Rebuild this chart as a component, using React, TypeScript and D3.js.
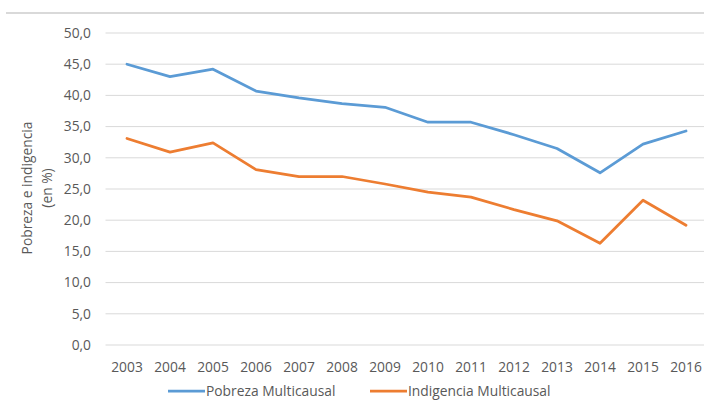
import React from "react";
import * as d3 from "d3";

const years = ["2003","2004","2005","2006","2007","2008","2009","2010","2011","2012","2013","2014","2015","2016"];
const pobreza = [45.0, 43.0, 44.2, 40.7, 39.6, 38.7, 38.1, 35.7, 35.7, 33.7, 31.5, 27.6, 32.2, 34.3];
const indigencia = [33.1, 30.9, 32.4, 28.1, 27.0, 27.0, 25.8, 24.5, 23.7, 21.7, 19.9, 16.3, 23.2, 19.2];
const yTicks = [0, 5, 10, 15, 20, 25, 30, 35, 40, 45, 50];
const seriesNames = ["Pobreza Multicausal", "Indigencia Multicausal"];
const colors = ["#5b9bd5", "#ed7d31"];

export default function App() {
  const W = 704, H = 420;
  const left = 105.5, right = 707.5, top = 33, bottom = 345;
  const x = d3.scaleBand<string>().domain(years).range([left, right]);
  const y = d3.scaleLinear().domain([0, 50]).range([bottom, top]);
  const cx = (d: string) => (x(d) ?? 0) + x.bandwidth() / 2;
  const line = d3.line<number>().x((_, i) => cx(years[i])).y(v => y(v));
  const font = "'Open Sans', 'Noto Sans', sans-serif";
  const textColor = "#595959";
  const fmt = (v: number) => v.toFixed(1).replace(".", ",");
  const series = [pobreza, indigencia];
  const legendX = [168, 370];
  const fs = 13.8;

  return (
    <svg width={W} height={H} style={{ position: "absolute", left: 0, top: 0, background: "#fff" }} fontFamily={font}>
      <line x1={6} x2={W} y1={13} y2={13} stroke="#d9d9d9" strokeWidth={2} />
      {yTicks.map(t => (
        <g key={t}>
          <line x1={left} x2={W} y1={y(t)} y2={y(t)} stroke="#d9d9d9" strokeWidth={1} />
          <text x={91} y={y(t)} dy="0.35em" textAnchor="end" fontSize={fs} fill={textColor}>{fmt(t)}</text>
        </g>
      ))}
      {years.map(yr => (
        <text key={yr} x={cx(yr)} y={367} dy="0.35em" textAnchor="middle" fontSize={fs} fill={textColor}>{yr}</text>
      ))}
      <g transform="translate(27,188) rotate(-90)">
        <text textAnchor="middle" dy="0.35em" fontSize={fs} fill={textColor}>Pobreza e indigencia</text>
      </g>
      <g transform="translate(47,188) rotate(-90)">
        <text textAnchor="middle" dy="0.35em" fontSize={fs} fill={textColor}>(en %)</text>
      </g>
      {series.map((s, i) => (
        <path key={i} d={line(s) ?? ""} fill="none" stroke={colors[i]} strokeWidth={2.75} strokeLinejoin="round" strokeLinecap="round" />
      ))}
      {seriesNames.map((n, i) => (
        <g key={n}>
          <line x1={legendX[i]} x2={legendX[i] + 37} y1={391} y2={391} stroke={colors[i]} strokeWidth={2.75} />
          <text x={legendX[i] + 38} y={391} dy="0.35em" fontSize={fs} fill={textColor}>{n}</text>
        </g>
      ))}
    </svg>
  );
}
